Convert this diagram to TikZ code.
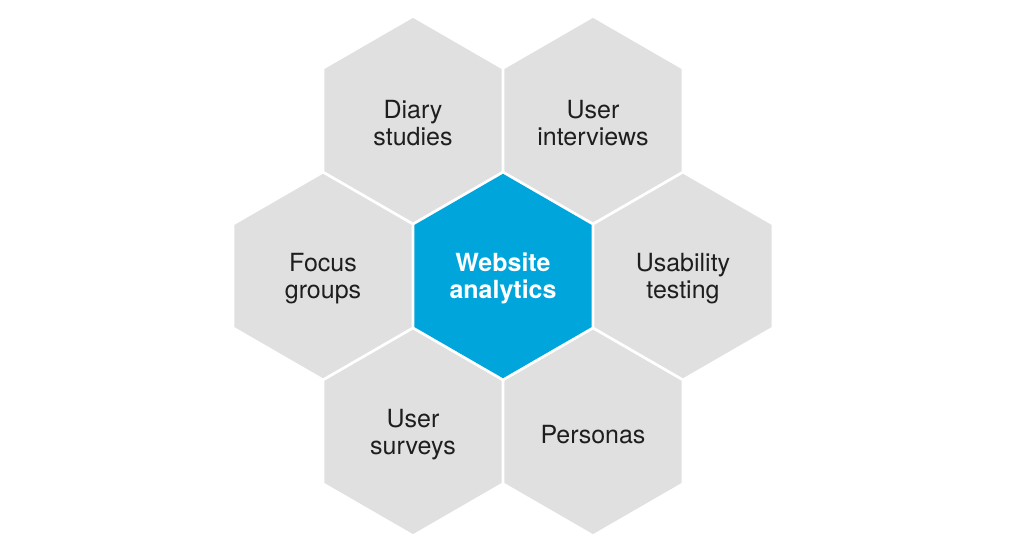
\documentclass[tikz,border=0pt]{standalone}
\usepackage{fontspec}
\setmainfont{TeX Gyre Heros}
\usetikzlibrary{shapes.geometric, positioning, calc}
\definecolor{hexgrey}{RGB}{224,224,224}
\definecolor{hexblue}{RGB}{0,165,220}
\definecolor{hextext}{RGB}{30,30,30}
\newcommand{\cellpad}{\rule{0pt}{24bp}}

\begin{document}
\begin{tikzpicture}[x=1bp, y=1bp,
    hexcell/.style={regular polygon, regular polygon sides=6, shape border rotate=30,
        minimum size=204.4bp, inner sep=0pt, outer sep=0pt, draw=none,
        align=center, font=\fontsize{25bp}{27bp}\selectfont},
    outercell/.style={hexcell, fill=hexgrey, text=hextext},
    hubcell/.style={hexcell, fill=hexblue, text=white, font=\fontsize{25bp}{27bp}\selectfont\bfseries}]
    \useasboundingbox (0,0) rectangle (1024,-560);
    \node[hubcell] (hub) at (503,-276) {\cellpad Website\\analytics};
    % ring of methods around the hub
    \node[outercell] (diary) at ($(hub)+(120:180)$) {\cellpad Diary\\studies};
    \node[outercell] (interviews) at ($(hub)+(60:180)$) {\cellpad User\\interviews};
    \node[outercell] (focus) at ($(hub)+(180:180)$) {\cellpad Focus\\groups};
    \node[outercell] (usability) at ($(hub)+(0:180)$) {\cellpad Usability\\testing};
    \node[outercell] (surveys) at ($(hub)+(240:180)$) {\cellpad User\\surveys};
    \node[outercell] (personas) at ($(hub)+(300:180)$) {\cellpad Personas};
\end{tikzpicture}
\end{document}
